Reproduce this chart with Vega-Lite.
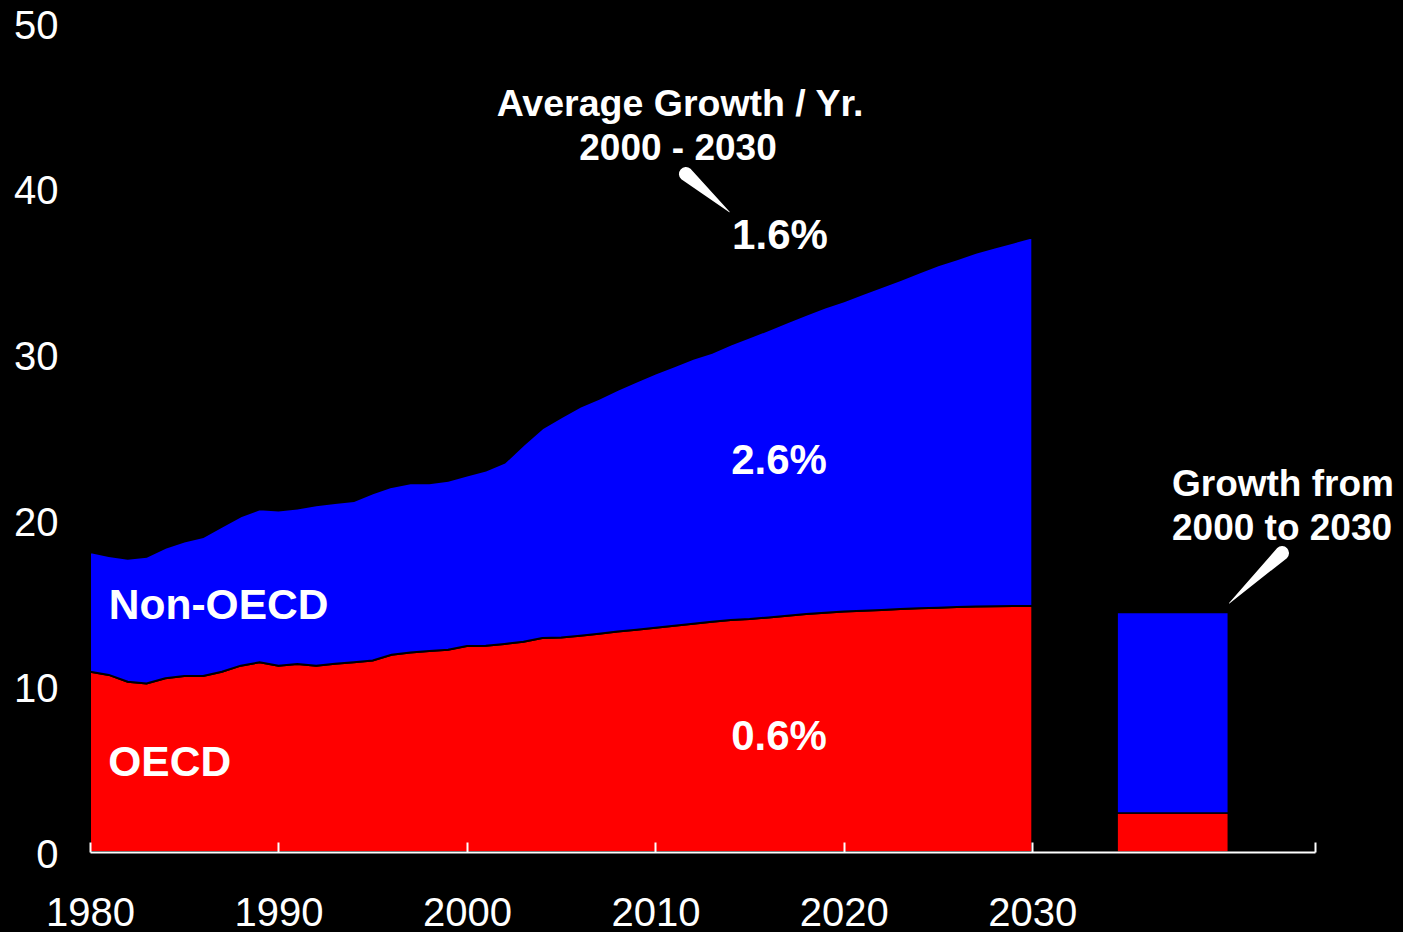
{
  "$schema": "https://vega.github.io/schema/vega-lite/v6.json",
  "width": 1225,
  "height": 829,
  "autosize": {"type": "none"},
  "padding": {"left": 90, "top": 23, "right": 88, "bottom": 80},
  "background": "black",
  "config": {"view": {"stroke": null}, "font": "Liberation Sans"},
  "datasets": {
    "energy": [
      {"year": 1980, "OECD": 10.87, "NonOECD": 7.23},
      {"year": 1981, "OECD": 10.68, "NonOECD": 7.17},
      {"year": 1982, "OECD": 10.27, "NonOECD": 7.41},
      {"year": 1983, "OECD": 10.17, "NonOECD": 7.63},
      {"year": 1984, "OECD": 10.48, "NonOECD": 7.87},
      {"year": 1985, "OECD": 10.62, "NonOECD": 8.10},
      {"year": 1986, "OECD": 10.62, "NonOECD": 8.38},
      {"year": 1987, "OECD": 10.87, "NonOECD": 8.75},
      {"year": 1988, "OECD": 11.24, "NonOECD": 9.01},
      {"year": 1989, "OECD": 11.44, "NonOECD": 9.23},
      {"year": 1990, "OECD": 11.24, "NonOECD": 9.35},
      {"year": 1991, "OECD": 11.34, "NonOECD": 9.38},
      {"year": 1992, "OECD": 11.24, "NonOECD": 9.68},
      {"year": 1993, "OECD": 11.35, "NonOECD": 9.70},
      {"year": 1994, "OECD": 11.45, "NonOECD": 9.72},
      {"year": 1995, "OECD": 11.55, "NonOECD": 10.08},
      {"year": 1996, "OECD": 11.90, "NonOECD": 10.12},
      {"year": 1997, "OECD": 12.03, "NonOECD": 10.21},
      {"year": 1998, "OECD": 12.12, "NonOECD": 10.12},
      {"year": 1999, "OECD": 12.20, "NonOECD": 10.19},
      {"year": 2000, "OECD": 12.42, "NonOECD": 10.28},
      {"year": 2001, "OECD": 12.44, "NonOECD": 10.56},
      {"year": 2002, "OECD": 12.55, "NonOECD": 10.93},
      {"year": 2003, "OECD": 12.68, "NonOECD": 11.87},
      {"year": 2004, "OECD": 12.90, "NonOECD": 12.65},
      {"year": 2005, "OECD": 12.94, "NonOECD": 13.28},
      {"year": 2006, "OECD": 13.05, "NonOECD": 13.80},
      {"year": 2007, "OECD": 13.17, "NonOECD": 14.16},
      {"year": 2008, "OECD": 13.30, "NonOECD": 14.57},
      {"year": 2009, "OECD": 13.41, "NonOECD": 14.96},
      {"year": 2010, "OECD": 13.52, "NonOECD": 15.33},
      {"year": 2011, "OECD": 13.64, "NonOECD": 15.66},
      {"year": 2012, "OECD": 13.76, "NonOECD": 15.99},
      {"year": 2013, "OECD": 13.89, "NonOECD": 16.22},
      {"year": 2014, "OECD": 13.99, "NonOECD": 16.61},
      {"year": 2015, "OECD": 14.05, "NonOECD": 16.99},
      {"year": 2016, "OECD": 14.15, "NonOECD": 17.33},
      {"year": 2017, "OECD": 14.25, "NonOECD": 17.70},
      {"year": 2018, "OECD": 14.35, "NonOECD": 18.05},
      {"year": 2019, "OECD": 14.43, "NonOECD": 18.40},
      {"year": 2020, "OECD": 14.50, "NonOECD": 18.72},
      {"year": 2021, "OECD": 14.55, "NonOECD": 19.10},
      {"year": 2022, "OECD": 14.60, "NonOECD": 19.48},
      {"year": 2023, "OECD": 14.65, "NonOECD": 19.85},
      {"year": 2024, "OECD": 14.70, "NonOECD": 20.25},
      {"year": 2025, "OECD": 14.73, "NonOECD": 20.65},
      {"year": 2026, "OECD": 14.77, "NonOECD": 20.98},
      {"year": 2027, "OECD": 14.80, "NonOECD": 21.34},
      {"year": 2028, "OECD": 14.82, "NonOECD": 21.63},
      {"year": 2029, "OECD": 14.83, "NonOECD": 21.93},
      {"year": 2030, "OECD": 14.84, "NonOECD": 22.23}
    ],
    "growth": [
      {"region": "OECD", "value": 2.35, "from": 2034.5, "to": 2040.4},
      {"region": "NonOECD", "value": 12.1, "from": 2034.5, "to": 2040.4}
    ],
    "callouts": [
      {"callout": "average", "part": "base", "year": 2011.62, "value": 40.89},
      {"callout": "average", "part": "tip", "year": 2013.93, "value": 38.6},
      {"callout": "growth", "part": "base", "year": 2043.25, "value": 18.03},
      {"callout": "growth", "part": "tip", "year": 2040.45, "value": 15.0}
    ]
  },
  "layer": [
    {
      "data": {"name": "energy"},
      "transform": [{"fold": ["OECD", "NonOECD"], "as": ["region", "value"]}],
      "mark": {"type": "area", "stroke": "black", "strokeWidth": 2, "opacity": 1},
      "encoding": {
        "x": {
          "field": "year",
          "type": "quantitative",
          "scale": {"domain": [1980, 2045], "nice": false, "zero": false},
          "axis": {
            "values": [1980, 1990, 2000, 2010, 2020, 2030, 2045],
            "format": "d",
            "labelExpr": "datum.value > 2040 ? '' : datum.label",
            "labelFlush": false,
            "labelOverlap": false,
            "title": null,
            "grid": false,
            "domainColor": "white",
            "domainWidth": 2,
            "tickColor": "white",
            "tickWidth": 2,
            "tickSize": -10,
            "labelColor": "white",
            "labelFont": "Liberation Sans",
            "labelFontSize": 40,
            "labelPadding": 51,
            "labelBaseline": "top",
            "zindex": 1
          }
        },
        "y": {
          "field": "value",
          "type": "quantitative",
          "stack": "zero",
          "scale": {"domain": [0, 50], "nice": false},
          "axis": {
            "values": [0, 10, 20, 30, 40, 50],
            "title": null,
            "grid": false,
            "domain": false,
            "ticks": false,
            "labelColor": "white",
            "labelFont": "Liberation Sans",
            "labelFontSize": 40,
            "labelPadding": 32,
            "labelOffset": 3,
            "labelFlush": false
          }
        },
        "color": {
          "field": "region",
          "type": "nominal",
          "scale": {"domain": ["OECD", "NonOECD"], "range": ["#ff0000", "#0000ff"]},
          "legend": null
        },
        "order": {"field": "region", "sort": "descending"}
      }
    },
    {
      "data": {"name": "growth"},
      "transform": [
        {"stack": "value", "groupby": ["from"], "sort": [{"field": "region", "order": "descending"}], "as": ["v0", "v1"]}
      ],
      "mark": {"type": "bar", "stroke": "black", "strokeWidth": 1.5},
      "encoding": {
        "x": {"field": "from", "type": "quantitative"},
        "x2": {"field": "to"},
        "y": {"field": "v0", "type": "quantitative"},
        "y2": {"field": "v1"},
        "color": {"field": "region", "type": "nominal", "legend": null}
      }
    },
    {
      "data": {"name": "callouts"},
      "mark": {"type": "trail", "color": "white"},
      "encoding": {
        "x": {"field": "year", "type": "quantitative"},
        "y": {"field": "value", "type": "quantitative"},
        "detail": {"field": "callout"},
        "size": {
          "field": "part",
          "type": "ordinal",
          "scale": {"domain": ["base", "tip"], "range": [14, 0.5]},
          "legend": null
        }
      }
    },
    {
      "data": {"values": [{}]},
      "mark": {"type": "text", "text": "Average Growth / Yr.", "fontWeight": "bold", "fontSize": 37.5, "color": "white", "align": "center", "baseline": "middle"},
      "encoding": {"x": {"datum": 2011.31, "type": "quantitative"}, "y": {"datum": 45.05, "type": "quantitative"}}
    },
    {
      "data": {"values": [{}]},
      "mark": {"type": "text", "text": "2000 - 2030", "fontWeight": "bold", "fontSize": 37, "color": "white", "align": "center", "baseline": "middle"},
      "encoding": {"x": {"datum": 2011.2, "type": "quantitative"}, "y": {"datum": 42.4, "type": "quantitative"}}
    },
    {
      "data": {"values": [{}]},
      "mark": {"type": "text", "text": "1.6%", "fontWeight": "bold", "fontSize": 42, "color": "white", "align": "center", "baseline": "middle"},
      "encoding": {"x": {"datum": 2016.61, "type": "quantitative"}, "y": {"datum": 37.15, "type": "quantitative"}}
    },
    {
      "data": {"values": [{}]},
      "mark": {"type": "text", "text": "2.6%", "fontWeight": "bold", "fontSize": 42, "color": "white", "align": "center", "baseline": "middle"},
      "encoding": {"x": {"datum": 2016.56, "type": "quantitative"}, "y": {"datum": 23.58, "type": "quantitative"}}
    },
    {
      "data": {"values": [{}]},
      "mark": {"type": "text", "text": "0.6%", "fontWeight": "bold", "fontSize": 42, "color": "white", "align": "center", "baseline": "middle"},
      "encoding": {"x": {"datum": 2016.56, "type": "quantitative"}, "y": {"datum": 6.94, "type": "quantitative"}}
    },
    {
      "data": {"values": [{}]},
      "mark": {"type": "text", "text": "Non-OECD", "fontWeight": "bold", "fontSize": 42.5, "color": "white", "align": "left", "baseline": "middle"},
      "encoding": {"x": {"datum": 1981.0, "type": "quantitative"}, "y": {"datum": 14.84, "type": "quantitative"}}
    },
    {
      "data": {"values": [{}]},
      "mark": {"type": "text", "text": "OECD", "fontWeight": "bold", "fontSize": 42.5, "color": "white", "align": "left", "baseline": "middle"},
      "encoding": {"x": {"datum": 1980.97, "type": "quantitative"}, "y": {"datum": 5.37, "type": "quantitative"}}
    },
    {
      "data": {"values": [{}]},
      "mark": {"type": "text", "text": "Growth from", "fontWeight": "bold", "fontSize": 37, "color": "white", "align": "center", "baseline": "middle"},
      "encoding": {"x": {"datum": 2043.3, "type": "quantitative"}, "y": {"datum": 22.13, "type": "quantitative"}}
    },
    {
      "data": {"values": [{}]},
      "mark": {"type": "text", "text": "2000 to 2030", "fontWeight": "bold", "fontSize": 37, "color": "white", "align": "center", "baseline": "middle"},
      "encoding": {"x": {"datum": 2043.25, "type": "quantitative"}, "y": {"datum": 19.48, "type": "quantitative"}}
    }
  ]
}
